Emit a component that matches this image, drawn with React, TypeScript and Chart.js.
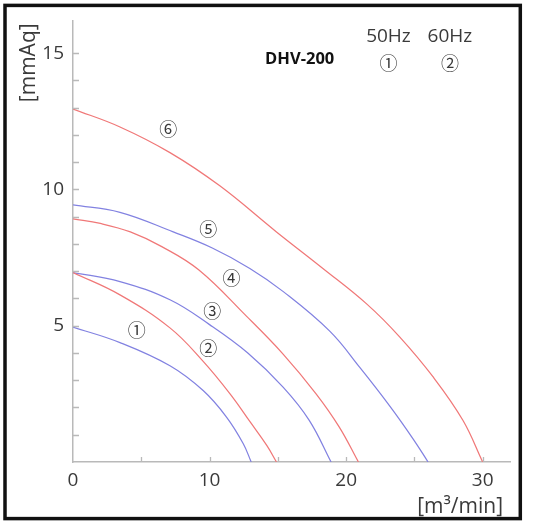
import React, { useEffect, useRef } from 'react';
import { Chart, registerables } from 'chart.js';

Chart.register(...registerables);

// ---- data (flow m3/min vs static pressure mmAq) ----
const curve1X = [0, 3.44, 7.1, 9.53, 11.24, 12.46, 13.05];
const curve1Y = [4.95, 4.38, 3.53, 2.62, 1.65, 0.68, 0];
const curve2X = [0, 3.44, 7.1, 9.5, 11.5, 13.0, 14.2, 14.9];
const curve2Y = [6.95, 6.13, 4.92, 3.71, 2.5, 1.45, 0.6, 0];
const curve3X = [0, 3.44, 7.1, 10, 12.8, 15.4, 17.3, 18.9];
const curve3Y = [6.95, 6.62, 5.95, 5.04, 4.0, 2.74, 1.53, 0];
const curve4X = [0, 2, 4.2, 6.5, 9.2, 12.7, 15.4, 17.8, 19.5, 20.9];
const curve4Y = [8.92, 8.75, 8.44, 7.9, 7.05, 5.35, 3.95, 2.5, 1.28, 0];
const curve5X = [0, 3.44, 7.34, 10.2, 12.95, 15.4, 18.8, 21.0, 23.2, 24.9, 26.0];
const curve5Y = [9.43, 9.16, 8.44, 7.85, 7.1, 6.25, 4.8, 3.47, 2.05, 0.85, 0];
const curve6X = [0, 3.4, 7.1, 10.75, 14.9, 18.3, 21.5, 23.9, 26.4, 28.55, 30];
const curve6Y = [12.95, 12.3, 11.35, 10.13, 8.44, 7.1, 5.8, 4.6, 3.1, 1.53, 0];

const curveXs = [curve1X, curve2X, curve3X, curve4X, curve5X, curve6X];
const curveYs = [curve1Y, curve2Y, curve3Y, curve4Y, curve5Y, curve6Y];
const curveFreq = ['50Hz', '60Hz', '50Hz', '60Hz', '50Hz', '60Hz'];

const curveMarks = ['①', '②', '③', '④', '⑤', '⑥'];
const markX = [4.66, 9.9, 10.2, 11.6, 9.9, 6.97];
const markY = [4.83, 4.19, 5.55, 6.74, 8.56, 12.2];

const modelName = 'DHV-200';
const modelX = 16.6;
const modelY = 14.76;
const freqNames = ['50Hz', '60Hz'];
const freqMarks = ['①', '②'];
const freqX = [23.1, 27.6];
const freqNameY = 15.62;
const freqMarkY = 14.62;

const xTitle = '[m³/min]';
const yTitle = '[mmAq]';
const xMax = 32;
const yMax = 16.2;
const xLastTick = 30;
const yLastTick = 15;

const BLUE = 'rgb(130,130,225)';
const RED = 'rgb(240,120,120)';
const AXIS = '#b9b9b9';
const TEXT = '#3a3a3a';
const FONT = '"Open Sans", "Noto Sans", sans-serif';
const CJK = '"Noto Sans CJK JP", "DejaVu Sans", sans-serif';

const framePlugin = {
  id: 'frame',
  beforeDraw(chart: any) {
    const ctx = chart.ctx;
    ctx.save();
    ctx.fillStyle = '#ffffff';
    ctx.fillRect(0, 0, chart.width, chart.height);
    ctx.strokeStyle = '#111';
    ctx.lineWidth = 3.5;
    ctx.strokeRect(5, 5.4, 515.3, 513.2);
    ctx.restore();
  },
};

const ticksPlugin = {
  id: 'innerTicks',
  afterDraw(chart: any) {
    const ctx = chart.ctx;
    const xs = chart.scales.x;
    const ys = chart.scales.y;
    const area = chart.chartArea;
    ctx.save();
    ctx.strokeStyle = AXIS;
    ctx.lineWidth = 1.3;
    ctx.beginPath();
    xs.ticks.forEach((t: any) => {
      if (t.value <= 0 || t.value > xLastTick) return;
      const px = Math.round(xs.getPixelForValue(t.value)) + 0.5;
      ctx.moveTo(px, area.bottom);
      ctx.lineTo(px, area.bottom - 5);
    });
    ys.ticks.forEach((t: any) => {
      if (t.value <= 0 || t.value > yLastTick || Math.abs(t.value - Math.round(t.value)) > 1e-6) return;
      const py = Math.round(ys.getPixelForValue(t.value)) + 0.5;
      ctx.moveTo(area.left, py);
      ctx.lineTo(area.left + 6, py);
    });
    ctx.stroke();

    // axis titles
    ctx.fillStyle = TEXT;
    ctx.font = `21px ${FONT}`;
    ctx.textAlign = 'right';
    ctx.textBaseline = 'middle';
    ctx.fillText(xTitle, xs.right - 7, 507);
    ctx.save();
    ctx.translate(29, area.top + 3);
    ctx.rotate(-Math.PI / 2);
    ctx.fillText(yTitle, 0, 0);
    ctx.restore();

    // circled curve numbers
    ctx.textAlign = 'center';
    ctx.font = `18px ${CJK}`;
    curveMarks.forEach((m, i) => {
      ctx.fillText(m, xs.getPixelForValue(markX[i]), ys.getPixelForValue(markY[i]));
    });

    // header texts
    ctx.fillStyle = '#111';
    ctx.font = `bold 16.5px ${FONT}`;
    ctx.fillText(modelName, xs.getPixelForValue(modelX), ys.getPixelForValue(modelY));
    ctx.fillStyle = TEXT;
    ctx.font = `19px ${FONT}`;
    freqNames.forEach((f, i) => {
      ctx.fillText(f, xs.getPixelForValue(freqX[i]), ys.getPixelForValue(freqNameY));
    });
    ctx.font = `18px ${CJK}`;
    freqMarks.forEach((m, i) => {
      ctx.fillText(m, xs.getPixelForValue(freqX[i]), ys.getPixelForValue(freqMarkY));
    });
    ctx.restore();
  },
};

export default function App() {
  const canvasRef = useRef<HTMLCanvasElement | null>(null);

  useEffect(() => {
    if (!canvasRef.current) return;
    const datasets = curveXs.map((xsArr, i) => ({
      label: `${curveMarks[i]} ${curveFreq[i]}`,
      data: xsArr.map((x, j) => ({ x, y: curveYs[i][j] })),
      borderColor: curveFreq[i] === '50Hz' ? BLUE : RED,
      borderWidth: 1.25,
      pointRadius: 0,
      fill: false,
      tension: 0.4,
    }));

    const chart = new Chart(canvasRef.current, {
      type: 'line',
      data: { datasets },
      options: {
        animation: false,
        responsive: false,
        devicePixelRatio: 1,
        layout: { padding: { left: 0, right: 24, top: 17, bottom: 0 } },
        plugins: {
          legend: { display: false },
          tooltip: { enabled: false },
        },
        scales: {
          x: {
            type: 'linear',
            min: 0,
            max: xMax,
            grid: { drawOnChartArea: false, drawTicks: false },
            border: { display: true, color: AXIS, width: 1.5 },
            ticks: {
              stepSize: 5,
              includeBounds: false,
              autoSkip: false,
              maxRotation: 0,
              padding: 7,
              color: TEXT,
              font: { family: FONT, size: 19 },
              callback: (v: any) => (Number(v) % 10 === 0 && Number(v) <= xLastTick ? String(v) : ''),
            },
            afterFit: (s: any) => {
              s.height = 63;
            },
          },
          y: {
            type: 'linear',
            min: 0,
            max: yMax,
            grid: { drawOnChartArea: false, drawTicks: false },
            border: { display: true, color: AXIS, width: 1.5 },
            ticks: {
              stepSize: 1,
              includeBounds: false,
              autoSkip: false,
              padding: 9,
              color: TEXT,
              font: { family: FONT, size: 19 },
              callback: (v: any) => {
                const n = Number(v);
                return n > 0 && n <= yLastTick && n % 5 === 0 ? String(n) : '';
              },
            },
            afterFit: (s: any) => {
              s.width = 73;
            },
          },
        },
      },
      plugins: [framePlugin, ticksPlugin],
    });
    return () => chart.destroy();
  }, []);

  return (
    <div style={{ position: 'absolute', left: 0, top: 0, width: 534, height: 525, background: '#fff' }}>
      <canvas ref={canvasRef} width={534} height={525} />
    </div>
  );
}
